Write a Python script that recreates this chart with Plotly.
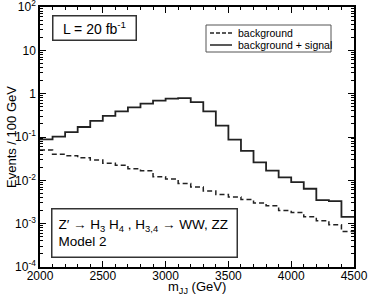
import plotly.graph_objects as go

# bin edges (GeV)
bin_edges = [2000, 2100, 2200, 2300, 2400, 2500, 2600, 2700, 2800, 2900, 3000,
             3100, 3200, 3300, 3400, 3500, 3600, 3700, 3800, 3900, 4000,
             4100, 4200, 4300, 4400, 4500]

# background + signal (events / 100 GeV), one value per bin
sig_plus_bkg = [0.088, 0.102, 0.13, 0.17, 0.235, 0.307, 0.39, 0.485, 0.59, 0.69,
                0.77, 0.785, 0.635, 0.39, 0.183, 0.087, 0.048, 0.026, 0.0167,
                0.0117, 0.0091, 0.0064, 0.0035, 0.0033, 0.00144]

# background only
background = [0.050, 0.040, 0.037, 0.0334, 0.0295, 0.0247, 0.0222, 0.0186, 0.0167,
              0.0121, 0.0107, 0.0085, 0.0070, 0.0057, 0.0047, 0.0041, 0.0036,
              0.0030, 0.0026, 0.0020, 0.0018, 0.00144, 0.00117, 0.00094, 0.00066]

y_tick_vals = [1e-4, 1e-3, 1e-2, 1e-1, 1, 10, 100]
y_tick_text = ["10<sup>-4</sup>", "10<sup>-3</sup>", "10<sup>-2</sup>",
               "10<sup>-1</sup>", "1", "10", "10<sup>2</sup>"]
x_tick_vals = [2000, 2500, 3000, 3500, 4000, 4500]

legend_labels = ["background", "background + signal"]

FONT = "Liberation Sans, Arial, sans-serif"
W, H = 369, 300
L, R, T, B = 40, 15, 7, 33
PW, PH = W - L - R, H - T - B


def px(x):
    return (x - L) / PW


def py(y):
    return (H - B - y) / PH


fig = go.Figure()

fig.add_trace(go.Scatter(
    x=bin_edges, y=background + [background[-1]],
    mode="lines", line=dict(shape="hv", color="#222", width=1.5, dash="5px,3px"),
    name=legend_labels[0], showlegend=False, hoverinfo="skip"))
fig.add_trace(go.Scatter(
    x=bin_edges, y=sig_plus_bkg + [sig_plus_bkg[-1]],
    mode="lines", line=dict(shape="hv", color="#222", width=1.8),
    name=legend_labels[1], showlegend=False, hoverinfo="skip"))

minor_y = [m * 10 ** e for e in range(-4, 2) for m in range(2, 10)]
minor_x = list(range(2000, 4501, 100))

fig.update_xaxes(
    range=[2000, 4500], showgrid=False, zeroline=False, automargin=False,
    showline=True, linecolor="black", linewidth=1.5, mirror="ticks",
    ticks="inside", ticklen=6, tickwidth=1, tickcolor="black",
    tickvals=x_tick_vals, ticktext=[str(v) for v in x_tick_vals],
    ticklabelstandoff=-3, ticklabeloverflow="allow",
    minor=dict(tickvals=minor_x, ticks="inside", ticklen=3, tickcolor="black", showgrid=False),
    tickfont=dict(size=12, color="black", family=FONT),
)
fig.update_yaxes(
    type="log", range=[-4, 2], showgrid=False, zeroline=False, automargin=False,
    showline=True, linecolor="black", linewidth=1.5, mirror="ticks",
    ticks="inside", ticklen=6, tickwidth=1, tickcolor="black",
    tickvals=y_tick_vals, ticktext=y_tick_text, ticklabeloverflow="allow",
    minor=dict(tickvals=minor_y, ticks="inside", ticklen=3, tickcolor="black", showgrid=False),
    tickfont=dict(size=12, color="black", family=FONT),
)

# axis titles
fig.add_annotation(xref="paper", yref="paper", x=0.5, y=py(287), xanchor="center", yanchor="middle",
                   text="m<sub>JJ</sub> (GeV)", showarrow=False,
                   font=dict(size=13, color="black", family=FONT))
fig.add_annotation(xref="paper", yref="paper", x=px(11), y=0.5, xanchor="center", yanchor="middle",
                   text="Events / 100 GeV", showarrow=False, textangle=-90,
                   font=dict(size=13, color="black", family=FONT))

# luminosity box
fig.add_annotation(
    xref="paper", yref="paper", x=px(52), y=py(15), xanchor="left", yanchor="top",
    text="L = 20 fb<sup>-1</sup>", showarrow=False, align="center",
    width=74, height=15,
    font=dict(size=14, color="black", family=FONT),
    bordercolor="#333", borderwidth=1.5, borderpad=4, bgcolor="white")

# process box
fig.add_annotation(
    xref="paper", yref="paper", x=px(51), y=py(208), xanchor="left", yanchor="top",
    text="Z\u2032 \u2192 H<sub>3</sub> H<sub>4</sub> , H<sub>3,4</sub> \u2192 WW, ZZ<br>Model 2",
    showarrow=False, align="left", width=172, height=35,
    font=dict(size=13.5, color="black", family=FONT),
    bordercolor="#333", borderwidth=1.5, borderpad=6, bgcolor="white")

# legend (drawn manually for compact layout)
fig.add_shape(type="rect", xref="paper", yref="paper",
              x0=px(206), x1=px(331), y0=py(52), y1=py(25),
              line=dict(color="#555", width=1), fillcolor="white")
rows = [33, 45]
dashes = ["4px,2px", "solid"]
for lab, ry, dsh in zip(legend_labels, rows, dashes):
    fig.add_shape(type="line", xref="paper", yref="paper",
                  x0=px(210), x1=px(232), y0=py(ry), y1=py(ry),
                  line=dict(color="#222", width=1.5, dash=dsh))
    fig.add_annotation(xref="paper", yref="paper", x=px(236), y=py(ry),
                       xanchor="left", yanchor="middle", text=lab, showarrow=False,
                       font=dict(size=10.5, color="black", family=FONT))

fig.update_layout(
    width=W, height=H,
    margin=dict(l=L, r=R, t=T, b=B),
    paper_bgcolor="white", plot_bgcolor="white",
    showlegend=False, hovermode=False,
)

fig.write_html("out.html", config={"displayModeBar": False},
               post_script="document.body.style.margin='0';document.body.style.padding='0';"
                           "document.documentElement.style.overflow='hidden';")
